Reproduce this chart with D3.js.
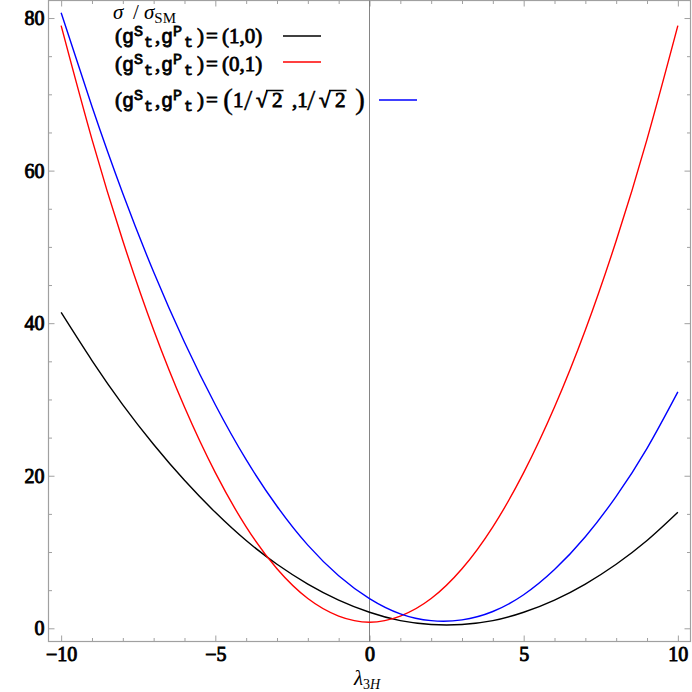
<!DOCTYPE html>
<html>
<head>
<meta charset="utf-8">
<script src="https://cdn.jsdelivr.net/npm/d3@7"></script>
<style>
  body { margin: 0; background: #fff; }
  svg { display: block; }
  .frame path.domain { display: none; }
  .frame line { stroke: #a0a0a0; stroke-width: 1; }
  .lbl text { font-family: "Liberation Serif", serif; font-weight: normal; font-size: 20px; fill: #000; stroke: #000; stroke-width: 0.9px; }
  .lbl path.domain, .lbl line { display: none; }
  .serif { font-family: "Liberation Serif", serif; }
  .lg { font-family: "Liberation Serif", serif; font-weight: normal; font-size: 21px; stroke: #000; stroke-width: 0.8px; }
  .mono { font-family: "Liberation Mono", monospace; font-weight: normal; }
</style>
</head>
<body>
<script>
// values
const lambdaVals = [-10, -9, -8, -7, -6, -5, -4, -3, -2, -1, 0, 1, 2, 3, 4, 5, 6, 7, 8, 9, 10];
const scalarVals = [41.4, 35.1, 29.3, 24.1, 19.4, 15.2, 11.5, 8.4, 5.8, 3.7, 2.1, 1.0, 0.5, 0.5, 1.0, 2.1, 3.7, 5.8, 8.4, 11.5, 15.2];
const pseudoVals = [79.0, 64.1, 50.8, 39.1, 29.0, 20.4, 13.3, 7.8, 3.9, 1.6, 0.8, 1.6, 3.9, 7.8, 13.3, 20.4, 29.0, 39.1, 50.8, 64.1, 79.0];
const mixedVals = [80.7, 68.4, 57.0, 46.7, 37.5, 29.3, 22.1, 16.0, 10.9, 6.9, 3.9, 1.9, 1.0, 1.1, 2.2, 4.4, 7.7, 12.0, 17.3, 23.6, 31.0];
const seriesColors = ['#000000', '#ff0000', '#0000ff'];
const xMajor = [-10, -5, 0, 5, 10];
const xMinor = [-9, -8, -7, -6, -4, -3, -2, -1, 1, 2, 3, 4, 6, 7, 8, 9];
const yMajor = [0, 20, 40, 60, 80];
const yMinor = [5, 10, 15, 25, 30, 35, 45, 50, 55, 65, 70, 75];

const w = 692, h = 692;
const fLeft = 48.5, fRight = 690.5, fTop = 0.5, fBottom = 641.5;

const svg = d3.select('body').append('svg')
  .attr('width', w)
  .attr('height', h);

const x = d3.scaleLinear().domain([-10.41, 10.41]).range([fLeft, fRight]);
const y = d3.scaleLinear().domain([-1.73, 82.3]).range([fBottom, fTop]);

// frame ticks, pointing inward on all four sides
function ticks(axis, vals, size, tr) {
  svg.append('g')
    .attr('class', 'frame')
    .attr('transform', tr)
    .call(axis.tickValues(vals).tickSize(size).tickFormat(''));
}
ticks(d3.axisBottom(x), xMajor, -6, 'translate(0,' + fBottom + ')');
ticks(d3.axisBottom(x), xMinor, -3.5, 'translate(0,' + fBottom + ')');
ticks(d3.axisTop(x), xMajor, -6, 'translate(0,' + fTop + ')');
ticks(d3.axisTop(x), xMinor, -3.5, 'translate(0,' + fTop + ')');
ticks(d3.axisLeft(y), yMajor, -6, 'translate(' + fLeft + ',0)');
ticks(d3.axisLeft(y), yMinor, -3.5, 'translate(' + fLeft + ',0)');
ticks(d3.axisRight(y), yMajor, -6, 'translate(' + fRight + ',0)');
ticks(d3.axisRight(y), yMinor, -3.5, 'translate(' + fRight + ',0)');

// labels
svg.append('g')
  .attr('class', 'lbl')
  .attr('transform', 'translate(0,' + fBottom + ')')
  .call(d3.axisBottom(x).tickValues(xMajor).tickSize(0).tickPadding(5))
  .attr('font-family', null).attr('font-size', null);
svg.append('g')
  .attr('class', 'lbl')
  .attr('transform', 'translate(' + fLeft + ',0)')
  .call(d3.axisLeft(y).tickValues(yMajor).tickSize(0).tickPadding(4))
  .attr('font-family', null).attr('font-size', null);

// frame box
svg.append('rect')
  .attr('x', fLeft).attr('y', fTop)
  .attr('width', fRight - fLeft).attr('height', fBottom - fTop)
  .attr('fill', 'none')
  .attr('stroke', '#a0a0a0')
  .attr('stroke-width', 1.2);

// vertical axis at lambda = 0
svg.append('line')
  .attr('x1', x(0)).attr('x2', x(0))
  .attr('y1', fTop).attr('y2', fBottom)
  .attr('stroke', '#777')
  .attr('stroke-width', 0.9);

// curves
const line = d3.line()
  .x((d, i) => x(lambdaVals[i]))
  .y(d => y(d))
  .curve(d3.curveNatural);

[scalarVals, pseudoVals, mixedVals].forEach(function (vals, i) {
  svg.append('path')
    .datum(vals)
    .attr('d', line)
    .attr('fill', 'none')
    .attr('stroke', seriesColors[i])
    .attr('stroke-width', 1.4);
});

// x axis title
const xt = svg.append('text')
  .attr('class', 'serif')
  .attr('x', 354).attr('y', 685)
  .style('font-size', '21px');
xt.append('tspan').style('font-style', 'italic').text('λ');
xt.append('tspan').attr('dy', 4).style('font-size', '14px').text('3');
xt.append('tspan').style('font-size', '14px').style('font-style', 'italic').text('H');

// legend
const lg = svg.append('g');

const head = lg.append('text')
  .attr('class', 'serif')
  .attr('x', 113).attr('y', 19)
  .style('font-size', '21px');
head.append('tspan').style('font-style', 'italic').text('σ');
head.append('tspan').attr('x', 133).text('/');
head.append('tspan').attr('x', 144).style('font-style', 'italic').text('σ');
head.append('tspan').attr('dy', 4).style('font-size', '15px').text('SM');

function couplings(text) {
  text.append('tspan').attr('x', 115).text('(');
  text.append('tspan').attr('x', 122).attr('class', 'mono').style('font-size', '20px').text('g');
  text.append('tspan').attr('x', 134).attr('class', 'mono').attr('dy', -7).style('font-size', '15px').text('S');
  text.append('tspan').attr('x', 144).attr('class', 'mono').attr('dy', 11).style('font-size', '15px').text('t');
  text.append('tspan').attr('x', 155).attr('dy', -4).text(',');
  text.append('tspan').attr('x', 161).attr('class', 'mono').style('font-size', '20px').text('g');
  text.append('tspan').attr('x', 173).attr('class', 'mono').attr('dy', -7).style('font-size', '15px').text('P');
  text.append('tspan').attr('x', 184).attr('class', 'mono').attr('dy', 11).style('font-size', '15px').text('t');
  text.append('tspan').attr('x', 197).attr('dy', -4).text(')');
  text.append('tspan').attr('x', 206).text('=');
}

const legendRows = [
  { yText: 43, yLine: 36, x1: 283, x2: 321, value: '(1,0)' },
  { yText: 71, yLine: 62, x1: 283, x2: 321, value: '(0,1)' },
  { yText: 107, yLine: 100, x1: 379, x2: 417, value: null }
];

legendRows.forEach(function (r, i) {
  const t = lg.append('text')
    .attr('class', 'lg')
    .attr('x', 113).attr('y', r.yText);
  couplings(t);
  if (r.value) {
    t.append('tspan').attr('x', 222).text(r.value);
  } else {
    t.append('tspan').attr('x', 223).attr('dy', 2).style('font-size', '30px').style('stroke-width', '0.3px').text('(');
    t.append('tspan').attr('x', 233).attr('dy', -2).text('1');
    t.append('tspan').attr('x', 244).attr('dy', 3).style('font-size', '30px').style('stroke-width', '0.3px').text('/');
    t.append('tspan').attr('x', 256).attr('dy', -3).text('√');
    t.append('tspan').attr('x', 272).text('2');
    t.append('tspan').attr('x', 292).text(',1');
    t.append('tspan').attr('x', 307).attr('dy', 3).style('font-size', '30px').style('stroke-width', '0.3px').text('/');
    t.append('tspan').attr('x', 319).attr('dy', -3).text('√');
    t.append('tspan').attr('x', 335).text('2');
    t.append('tspan').attr('x', 355).attr('dy', 2).style('font-size', '30px').style('stroke-width', '0.3px').text(')');
    // radical bars from the root sign over the 2s
    const node = t.node();
    const full = node.textContent;
    for (let k = 0; k < full.length; k++) {
      if (full[k] === '√') {
        const root = node.getExtentOfChar(k);
        const two = node.getExtentOfChar(k + 1);
        lg.append('line')
          .attr('x1', root.x + root.width - 1.5).attr('x2', two.x + two.width + 1)
          .attr('y1', r.yText - 16.5).attr('y2', r.yText - 16.5)
          .attr('stroke', '#000').attr('stroke-width', 1.5);
      }
    }
  }
  lg.append('line')
    .attr('x1', r.x1).attr('x2', r.x2)
    .attr('y1', r.yLine).attr('y2', r.yLine)
    .attr('stroke', seriesColors[i])
    .attr('stroke-width', 1.4);
});
</script>
</body>
</html>
